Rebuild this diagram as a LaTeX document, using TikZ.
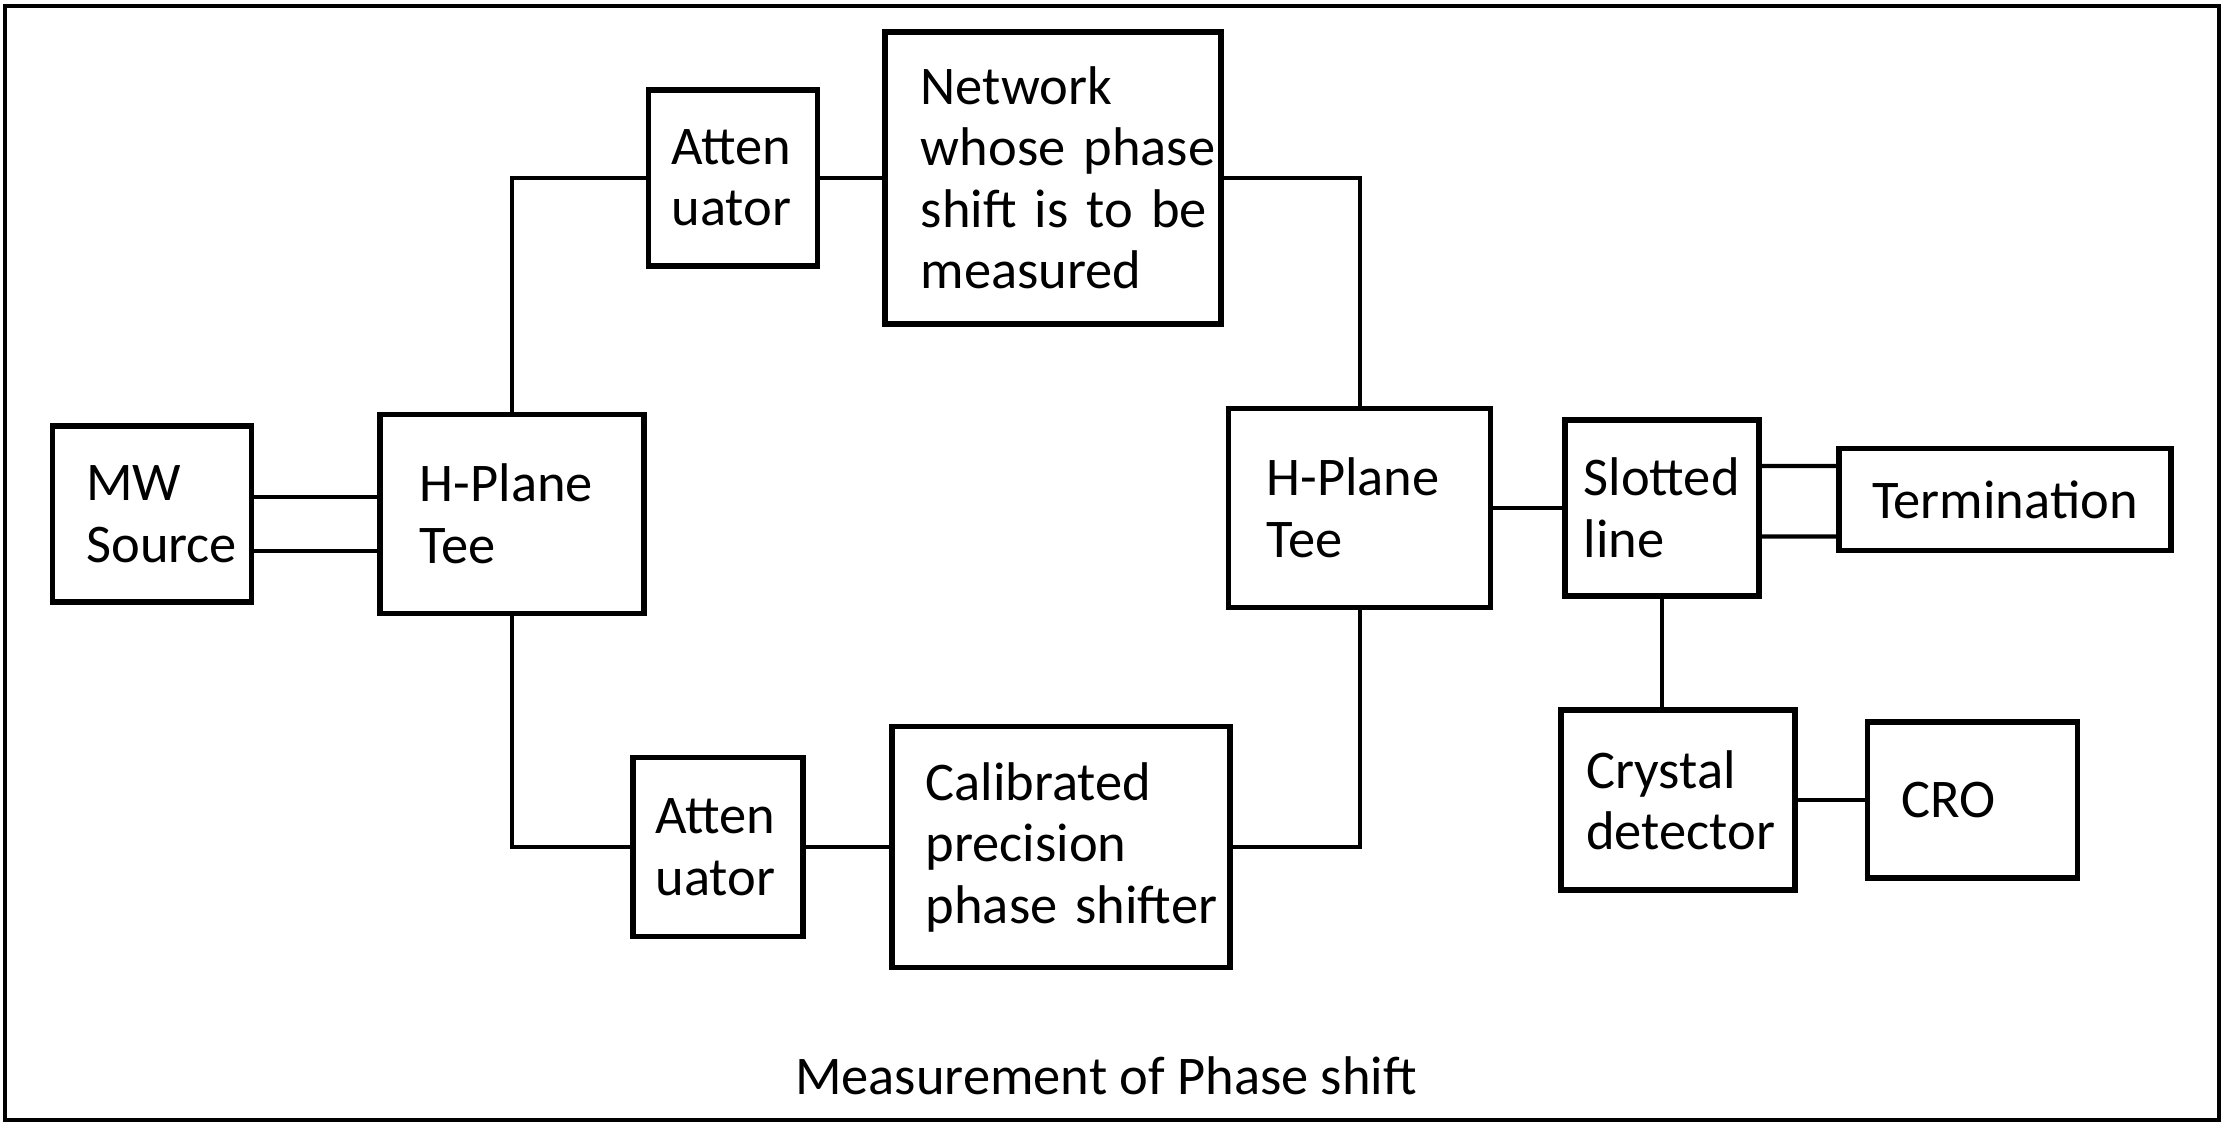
\documentclass[tikz,border=0pt]{standalone}
\usepackage{fontspec}
\setmainfont{Carlito}
\usetikzlibrary{positioning}
\tikzset {
  block/.style = {draw, line width=1.6pt, rectangle, align=left, inner sep=0pt, font=\fontsize{15.5}{17.5}\selectfont},
  wire/.style = {line width=1.2pt, color=black},
  caption/.style = {font=\fontsize{15.5}{17.5}\selectfont, anchor=base}
}

\begin{document}
\begin{tikzpicture}
    \useasboundingbox (0,0) rectangle (22.24,11.25);
    \draw[line width=1pt] (0.05,0.05) rectangle (22.19,11.19);

    % upper and lower arms start from the left tee
    \node[block, minimum width=2.64cm, minimum height=1.99cm, text width=1.84cm] (teeL) at (5.12,6.11) {H-Plane\\Tee};
    \node[block, minimum width=1.99cm, minimum height=1.76cm, text width=1.31cm, left=1.23cm of teeL] (mw) {MW\\Source};
    \node[block, minimum width=1.69cm, minimum height=1.76cm, text width=1.23cm, above right=1.43cm and -0.01cm of teeL] (attT) {Atten\\uator};
    \node[block, minimum width=3.36cm, minimum height=2.92cm, text width=2.65cm, right=0.62cm of attT] (net) {Network\\whose~phase\\shift~is~to~be\\measured};
    \node[block, minimum width=1.70cm, minimum height=1.79cm, text width=1.25cm, below=4.86cm of attT, xshift=-0.15cm] (attB) {Atten\\uator};
    \node[block, minimum width=3.38cm, minimum height=2.41cm, text width=2.70cm, right=0.83cm of attB] (cal) {Calibrated\\precision\\phase~shifter};

    % right tee and detection side
    \node[block, minimum width=2.62cm, minimum height=1.99cm, text width=1.86cm, right=5.79cm of teeL, yshift=0.06cm] (teeR) {H-Plane\\Tee};
    \node[block, minimum width=1.94cm, minimum height=1.76cm, text width=1.57cm, right=0.69cm of teeR] (slot) {Slotted\\line};
    \node[block, minimum width=3.32cm, minimum height=1.02cm, align=center, right=0.74cm of slot, yshift=0.085cm] (term) {Termination};
    \node[block, minimum width=2.34cm, minimum height=1.80cm, text width=1.83cm, below=1.085cm of slot, xshift=0.156cm] (cry) {Crystal\\detector};
    \node[block, minimum width=2.10cm, minimum height=1.56cm, text width=1.42cm, right=0.67cm of cry] (cro) {CRO};

    \node[caption] (title) at (11.06,0.30) {Measurement of Phase shift};

    \draw[wire] ([yshift=0.17cm]mw.east) -- ([yshift=0.17cm]teeL.west);
    \draw[wire] ([yshift=-0.37cm]mw.east) -- ([yshift=-0.37cm]teeL.west);
    \draw[wire] (teeL.north) |- (attT.west);
    \draw[wire] (attT.east) -- (net.west);
    \draw[wire] (net.east) -| (teeR.north);
    \draw[wire] (teeL.south) |- (attB.west);
    \draw[wire] (attB.east) -- (cal.west);
    \draw[wire] (cal.east) -| (teeR.south);
    \draw[wire] (teeR.east) -- (slot.west);
    \draw[wire] ([yshift=0.42cm]slot.east) -- ([yshift=0.335cm]term.west);
    \draw[wire] ([yshift=-0.285cm]slot.east) -- ([yshift=-0.37cm]term.west);
    \draw[wire] (slot.south) -- (slot.south |- cry.north);
    \draw[wire] (cry.east) -- (cro.west);
\end{tikzpicture}
\end{document}
